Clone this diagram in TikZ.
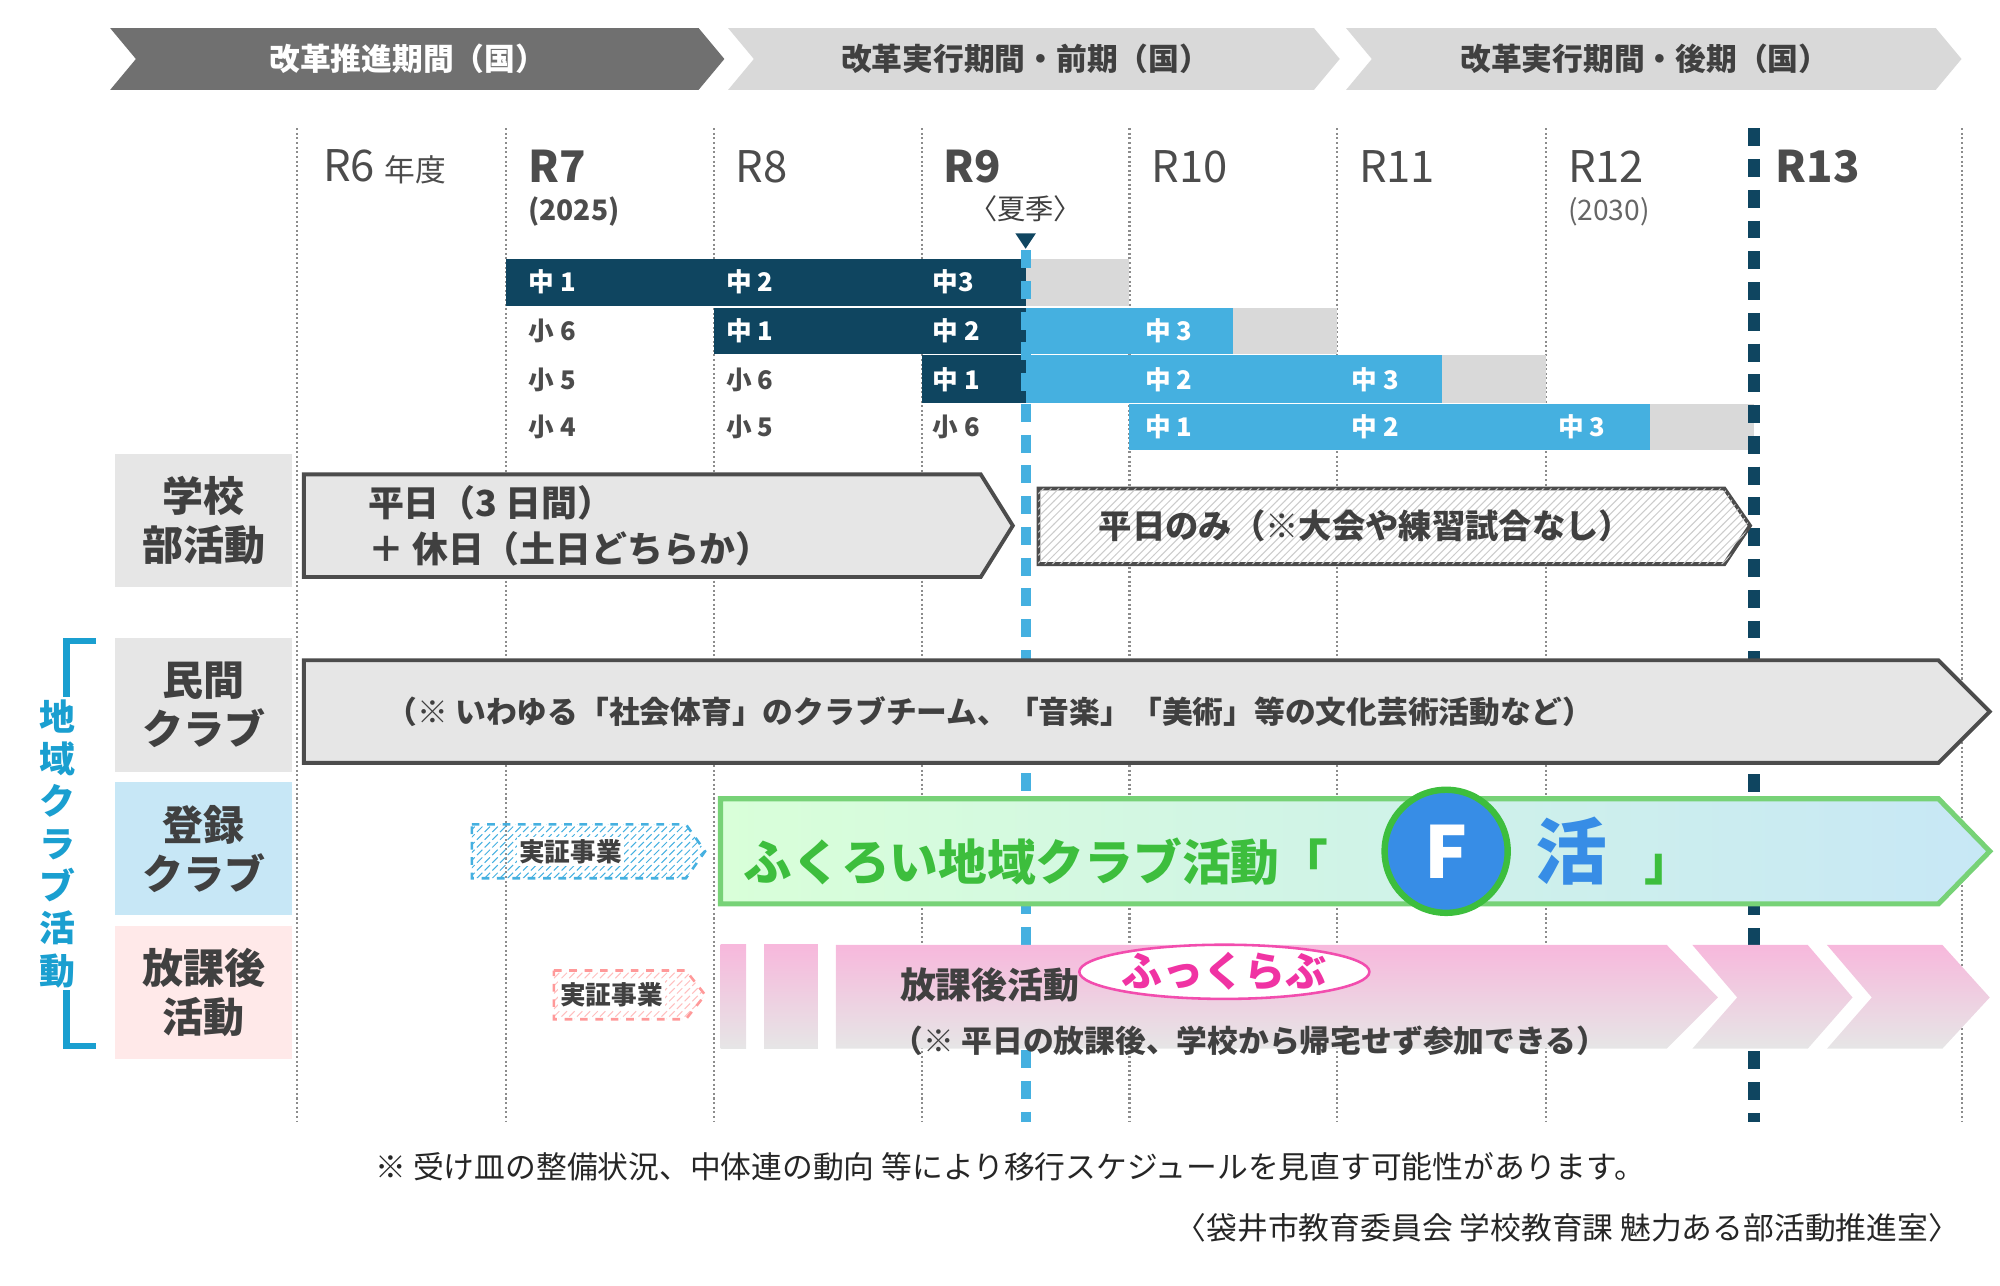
\documentclass[tikz,border=0pt]{standalone}
\usepackage{fontspec}
\setmainfont{Noto Sans CJK JP}
\usetikzlibrary{positioning,patterns,shapes.geometric}
\definecolor{navy}{HTML}{0F4560}
\definecolor{sky}{HTML}{45B0E0}
\definecolor{pale}{HTML}{D9D9D9}
\definecolor{boxgray}{HTML}{E6E6E6}
\definecolor{bracket}{HTML}{1A9FD0}
\definecolor{fgreen}{HTML}{3DBE3D}
\definecolor{fpink}{HTML}{F7B8DC}
\tikzset{
  yearlbl/.style={font=\fontsize{17}{18}\selectfont,text=black!70,anchor=west},
  gradelbl/.style={font=\fontsize{10}{11}\selectfont\bfseries,anchor=west,inner sep=0pt},
  sidebox/.style={minimum width=69pt,minimum height=52pt,font=\fontsize{16}{19}\selectfont\bfseries,align=center,text=black!75},
  bandtext/.style={font=\fontsize{12}{13}\selectfont\bfseries,text=black!75}
}
\begin{document}
\begin{tikzpicture}[x=0.5pt,y=-0.5pt]
\useasboundingbox (0,0) rectangle (1560,1003);
% top periods
\fill[black!56] (86,22) -- (545,22) -- (565,46) -- (545,70) -- (86,70) -- (106,46) -- cycle;
\fill[pale] (568,22) -- (1025,22) -- (1045,46) -- (1025,70) -- (568,70) -- (588,46) -- cycle;
\fill[pale] (1050,22) -- (1510,22) -- (1530,46) -- (1510,70) -- (1050,70) -- (1070,46) -- cycle;
\node[bandtext,text=white] (p1) at (318,46) {改革推進期間（国）};
\node[bandtext] (p2) at (800,46) {改革実行期間・前期（国）};
\node[bandtext] (p3) at (1283,46) {改革実行期間・後期（国）};
% grid
\foreach \gx in {232,395,557,719,881,1043,1206,1530}
  \draw[black!45,densely dotted,line width=0.8pt] (\gx,100) -- (\gx,875);
% grade cells
\fill[navy] (395,202) rectangle (800,239);
\fill[navy] (557,240) rectangle (800,276);
\fill[navy] (719,277) rectangle (800,314);
\fill[pale] (800,202) rectangle (881,239);
\fill[sky] (800,240) rectangle (962,276); \fill[pale] (962,240) rectangle (1043,276);
\fill[sky] (800,277) rectangle (1125,314); \fill[pale] (1125,277) rectangle (1206,314);
\fill[sky] (881,315) rectangle (1287,351); \fill[pale] (1287,315) rectangle (1368,351);
\foreach \gx/\gy/\gt/\gc in {412/220/中 1/white,566/220/中 2/white,727/220/中3/white,
  412/258/小 6/black!70,566/258/中 1/white,727/258/中 2/white,893/258/中 3/white,
  412/296/小 5/black!70,566/296/小 6/black!70,727/296/中 1/white,893/296/中 2/white,1054/296/中 3/white,
  412/333/小 4/black!70,566/333/小 5/black!70,727/333/小 6/black!70,893/333/中 1/white,1054/333/中 2/white,1215/333/中 3/white}
  \node[gradelbl,text=\gc] at (\gx,\gy) {\gt};
% key lines
\draw[sky,line width=4pt,dash pattern=on 7pt off 5pt] (800,195) -- (800,875);
\draw[navy,line width=4.5pt,dash pattern=on 7pt off 5pt] (1368,100) -- (1368,875);
% years
\node[yearlbl] (r6) at (245,130) {R6 \fontsize{12}{12}\selectfont 年度};
\node[yearlbl,font=\fontsize{17}{18}\selectfont\bfseries] (r7) at (405,130) {R7};
\node[anchor=west,font=\fontsize{11}{12}\selectfont\bfseries,text=black!70] (y25) at (405,165) {(2025)};
\node[yearlbl] (r8) at (567,130) {R8};
\node[yearlbl,font=\fontsize{17}{18}\selectfont\bfseries] (r9) at (729,130) {R9};
\node[font=\fontsize{11}{12}\selectfont,text=black!75] (kaki) at (800,163) {〈夏季〉};
\fill[navy] (792,182) -- (808,182) -- (800,194) -- cycle;
\node[yearlbl] (r10) at (891,130) {R10};
\node[yearlbl] (r11) at (1053,130) {R11};
\node[yearlbl] (r12) at (1216,130) {R12};
\node[anchor=west,font=\fontsize{11}{12}\selectfont,text=black!60] (y30) at (1216,165) {(2030)};
\node[yearlbl,font=\fontsize{17}{18}\selectfont\bfseries] (r13) at (1378,130) {R13};
% side boxes
\node[sidebox,fill=boxgray] (gakko) at (159,406) {学校\\部活動};
\node[sidebox,fill=boxgray] (minkan) at (159,550) {民間\\クラブ};
\node[sidebox,fill=sky!30] (toroku) at (159,662) {登録\\クラブ};
\node[sidebox,fill=pink!35] (hokago) at (159,774) {放課後\\活動};
\draw[bracket,line width=2.5pt] (75,500) -- (52,500) -- (52,816) -- (75,816);
\node[fill=white,inner sep=1pt,font=\fontsize{14}{16.5}\selectfont\bfseries,align=center,text=bracket] (chiiki) at (45,658) {地\\域\\ク\\ラ\\ブ\\活\\動};
% school band
\draw[black!70,line width=1.5pt,fill=boxgray] (237,370) -- (765,370) -- (790,410) -- (765,450) -- (237,450) -- cycle;
\node[bandtext,font=\fontsize{14}{18}\selectfont\bfseries,align=left,anchor=west] (heijitsu) at (280,410) {平日（3 日間）\\＋ 休日（土日どちらか）};
\draw[black!70,line width=1.5pt,fill=white,postaction={pattern=north east lines,pattern color=black!20}] (810,381) -- (1345,381) -- (1365,410) -- (1345,440) -- (810,440) -- cycle;
\node[bandtext,font=\fontsize{13}{14}\selectfont\bfseries] (nomi) at (1065,410) {平日のみ（※大会や練習試合なし）};
% private band
\draw[black!70,line width=1.5pt,fill=boxgray] (237,515) -- (1512,515) -- (1552,555) -- (1512,595) -- (237,595) -- cycle;
\node[bandtext] (shakai) at (772,555) {（※ いわゆる「社会体育」のクラブチーム、「音楽」「美術」等の文化芸術活動など）};
% trial boxes
\draw[sky,dashed,line width=1pt,pattern=north east lines,pattern color=sky] (368,643) -- (535,643) -- (550,664) -- (535,685) -- (368,685) -- cycle;
\node[fill=white,inner sep=1pt,font=\fontsize{10}{11}\selectfont\bfseries,text=black!75] (jisho1) at (445,664) {実証事業};
\draw[pink!80!red,dashed,line width=1pt,pattern=north east lines,pattern color=pink] (432,757) -- (535,757) -- (550,776) -- (535,795) -- (432,795) -- cycle;
\node[fill=white,inner sep=1pt,font=\fontsize{10}{11}\selectfont\bfseries,text=black!75] (jisho2) at (477,776) {実証事業};
% F-katsu band
\draw[fgreen!70,line width=2pt,left color=green!15,right color=sky!30] (562,623) -- (1512,623) -- (1552,664) -- (1512,705) -- (562,705) -- cycle;
\node[font=\fontsize{19}{20}\selectfont\bfseries,text=fgreen] (fuku) at (808,672) {ふくろい地域クラブ活動「};
\node[circle,draw=fgreen,line width=2.5pt,fill=sky!80!blue,minimum size=48pt,font=\fontsize{28}{28}\selectfont\bfseries,text=white] (fcirc) at (1128,664) {F};
\node[font=\fontsize{28}{28}\selectfont\bfseries,text=sky!80!blue] (katsu) at (1226,664) {活};
\node[font=\fontsize{19}{20}\selectfont\bfseries,text=fgreen] (kagi) at (1302,678) {」};
% after-school band
\shade[top color=fpink,bottom color=boxgray] (562,737) rectangle (582,818);
\shade[top color=fpink,bottom color=boxgray] (596,737) rectangle (638,818);
\shade[top color=fpink,bottom color=boxgray] (652,737) -- (1300,737) -- (1340,778) -- (1300,818) -- (652,818) -- cycle;
\shade[top color=fpink,bottom color=boxgray] (1320,737) -- (1410,737) -- (1445,778) -- (1410,818) -- (1320,818) -- (1355,778) -- cycle;
\shade[top color=fpink,bottom color=boxgray] (1425,737) -- (1515,737) -- (1552,778) -- (1515,818) -- (1425,818) -- (1460,778) -- cycle;
\node[bandtext,font=\fontsize{14}{15}\selectfont\bfseries] (hkatsu) at (772,768) {放課後活動};
\node[ellipse,draw=magenta!70,fill=white,line width=1pt,font=\fontsize{16}{17}\selectfont\bfseries,text=magenta!80,inner sep=0pt] (fukkurabu) at (955,758) {ふっくらぶ};
\node[bandtext] (kitaku) at (975,812) {（※ 平日の放課後、学校から帰宅せず参加できる）};
% footer
\node[font=\fontsize{12}{13}\selectfont,text=black!85] (note) at (788,910) {※ 受け皿の整備状況、中体連の動向 等により移行スケジュールを見直す可能性があります。};
\node[anchor=east,font=\fontsize{12}{13}\selectfont,text=black!85] (credit) at (1535,958) {〈袋井市教育委員会 学校教育課 魅力ある部活動推進室〉};
\end{tikzpicture}
\end{document}
